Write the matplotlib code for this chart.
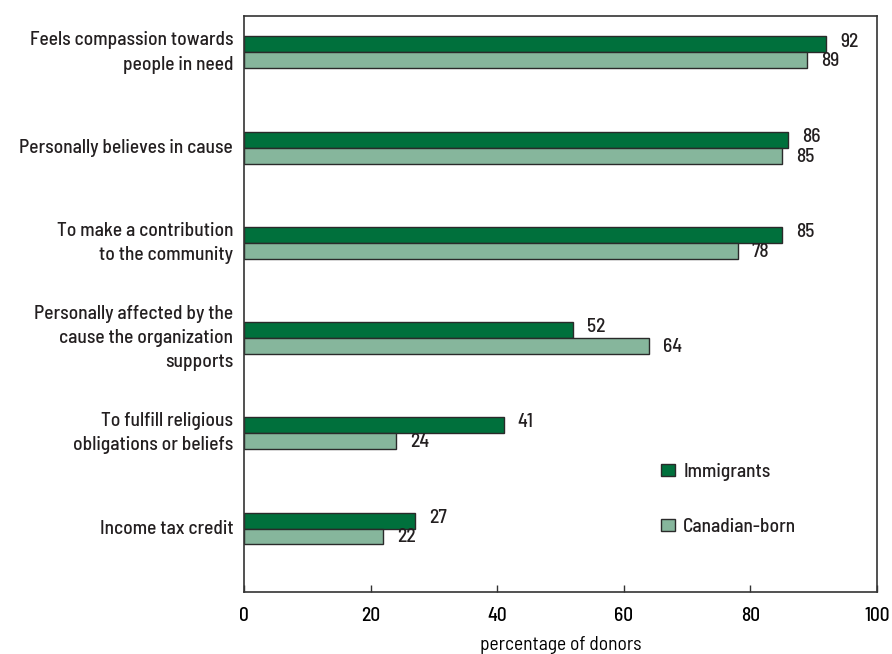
import matplotlib
matplotlib.use("Agg")
import matplotlib.pyplot as plt
from matplotlib import font_manager as fm
import numpy as np
from matplotlib.patches import Patch

categories = [
    "Feels compassion towards\npeople in need",
    "Personally believes in cause",
    "To make a contribution\nto the community",
    "Personally affected by the\ncause the organization\nsupports",
    "To fulfill religious\nobligations or beliefs",
    "Income tax credit",
]
immigrants = [92, 86, 85, 52, 41, 27]
canadian_born = [89, 85, 78, 64, 24, 22]
series_names = ["Immigrants", "Canadian-born"]
x_ticks = [0, 20, 40, 60, 80, 100]

dark_green = "#00703C"
light_green = "#86B69C"
edge = "#2a2a2a"

# pick a narrow sans family for the labels
available = {f.name for f in fm.fontManager.ttflist}
preferred = ["Barlow Semi Condensed", "Roboto Condensed", "Archivo Narrow",
             "PT Sans Narrow", "Asap Condensed", "Liberation Sans Narrow"]
narrow = [n for n in preferred if n in available]
plt.rcParams["font.family"] = narrow[:1] + ["DejaVu Sans"]
plt.rcParams["font.weight"] = 500
plt.rcParams["text.color"] = "#231f20"

fig = plt.figure(figsize=(8.92, 6.54), dpi=100)
ax = fig.add_axes([0.2735, 0.0948, 0.7097, 0.8807])

y = np.arange(len(categories))
h = 0.168
ax.barh(y - h / 2, immigrants, height=h, color=dark_green, edgecolor=edge, linewidth=1.0)
ax.barh(y + h / 2, canadian_born, height=h, color=light_green, edgecolor=edge, linewidth=1.0)

fs = 14
for yi, v in zip(y, immigrants):
    ax.text(v + 2.2, yi - h / 2 - 0.03, str(v), va="center", ha="left", fontsize=fs)
for yi, v in zip(y, canadian_born):
    ax.text(v + 2.2, yi + h / 2 + 0.01, str(v), va="center", ha="left", fontsize=fs)

ax.set_xlim(0, 100)
ax.set_ylim(5.667, -0.383)
ax.set_yticks([])
for i, lab in enumerate(categories):
    ax.text(-1.7, i, lab, ha="right", va="center", fontsize=fs, linespacing=1.45,
            transform=ax.transData)

ax.set_xticks(x_ticks)
ax.set_xticklabels([str(t) for t in x_ticks], fontsize=fs)
ax.tick_params(axis="x", direction="in", length=5, width=1, color="#333333", pad=11)
ax.set_xlabel("percentage of donors", fontsize=fs, labelpad=8)

for s in ax.spines.values():
    s.set_color("#333333")
    s.set_linewidth(1.2)

handles = [Patch(facecolor=dark_green, edgecolor=edge, linewidth=1.0),
           Patch(facecolor=light_green, edgecolor=edge, linewidth=1.0)]
ax.legend(handles, series_names, loc="upper left", bbox_to_anchor=(0.631, 0.255),
          frameon=False, fontsize=fs, handlelength=0.7, handleheight=0.55,
          handletextpad=0.45, labelspacing=1.9)

fig.savefig("out.png", dpi=100)
